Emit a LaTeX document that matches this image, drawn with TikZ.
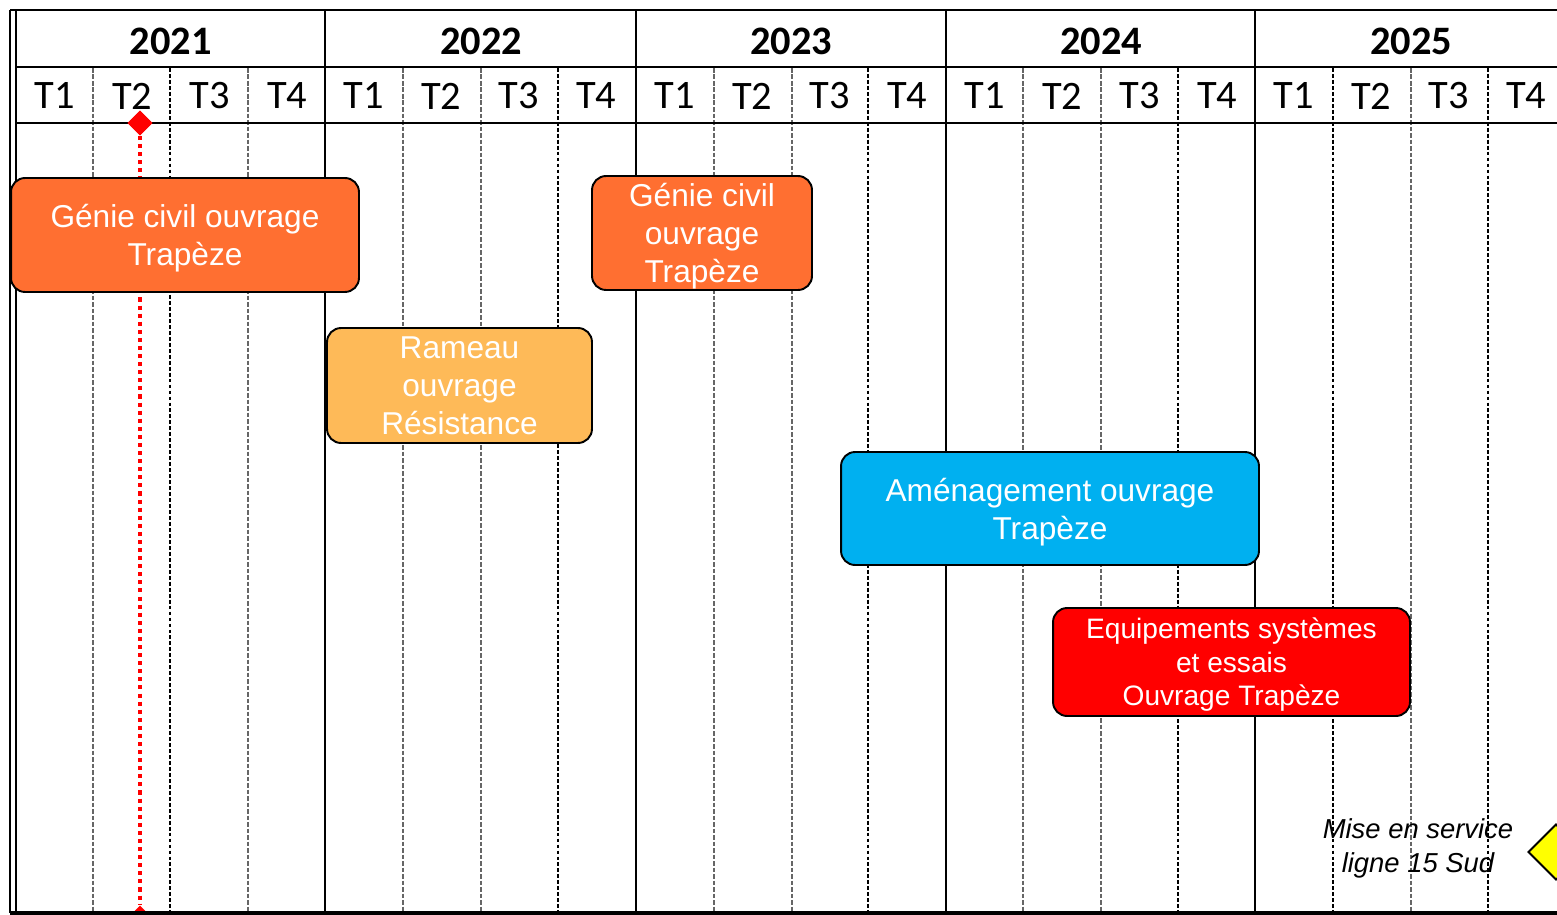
\documentclass[tikz,border=0pt]{standalone}
\usepackage{fontspec}
\setmainfont{Liberation Sans}
\newfontfamily\calib{Carlito}
\usetikzlibrary{shapes.geometric}
\definecolor{orangeA}{RGB}{255,111,49}
\definecolor{orangeB}{RGB}{254,186,88}
\definecolor{blueA}{RGB}{0,176,240}
\definecolor{redA}{RGB}{255,0,0}
\definecolor{yellowA}{RGB}{255,255,0}
\tikzset{
  qthin/.style={draw=black!60, line width=0.6pt, dash pattern=on 2.6pt off 1.1pt},
  qthick/.style={draw=black, line width=1.1pt, dash pattern=on 2.2pt off 1.2pt},
  yearline/.style={draw=black, line width=1.3pt},
  hline/.style={draw=black, line width=1.6pt},
  yearlbl/.style={font=\calib\bfseries\fontsize{23}{26}\selectfont, inner sep=0pt},
  qlbl/.style={font=\calib\fontsize{23}{26}\selectfont, inner sep=0pt},
  taskbox/.style={draw=black, line width=1.1pt, rounded corners=8pt, text=white, align=center, inner sep=0pt, text depth=0pt, font=\fontsize{18}{21.6}\selectfont},
  milestone/.style={diamond, fill=redA, draw=none, minimum size=0.5cm, inner sep=0pt},
}
\begin{document}
\begin{tikzpicture}[x=0.02cm, y=-0.02cm]
\useasboundingbox (0,0) rectangle (1557,915);
\clip (0,0) rectangle (1557,915);
\fill[white] (0,0) rectangle (1557,915);
% quarter dividers
\foreach \x in {93,248,403,481,714,792,1023,1101,1411}{
  \draw[qthin] (\x,68) -- (\x,911);
}
\foreach \x in {170,558,868,1178,1333,1488}{
  \draw[qthick] (\x,68) -- (\x,911);
}
% year lines
\foreach \x in {325,636,946,1255}{
  \draw[yearline] (\x,10) -- (\x,911);
}
% frame
\draw[black, line width=1.1pt] (10,10) -- (10,913);
\draw[black, line width=1.1pt] (16,10) -- (16,913);
\draw[black, line width=1.1pt] (10,10) -- (1557,10);
\draw[hline] (16,67) -- (1557,67);
\draw[hline] (16,123) -- (1557,123);
% year labels
\node[yearlbl] (y2021) at (170.5,41) {2021};
\node[yearlbl] (y2022) at (481,41) {2022};
\node[yearlbl] (y2023) at (791,41) {2023};
\node[yearlbl] (y2024) at (1101,41) {2024};
\node[yearlbl] (y2025) at (1411,41) {2025};
% quarter labels
\foreach \y/\x in {2021/16,2022/325,2023/636,2024/946,2025/1255}{
  \foreach \q in {1,2,3,4}{
    \node[qlbl] (q\y\q) at ({\x+77.5*(\q-0.5)},96) {T\q};
  }
}
% red milestone line
\node[milestone] (mtop) at (140,123) {};
\node[milestone] (mbot) at (140,918) {};
\draw[redA, line width=2.3pt, dash pattern=on 2.3pt off 2.3pt] (mtop) -- (mbot);
\node[milestone] at (140,123) {};
% bottom line
\draw[black, line width=2.4pt] (10,913) -- (1557,913);
% task boxes
\node[taskbox, fill=orangeA, minimum width=6.96cm, minimum height=2.28cm] (gc1) at (185,235) {Génie civil ouvrage\\Trapèze};
\node[taskbox, fill=orangeA, minimum width=4.4cm, minimum height=2.28cm] (gc2) at (702,233) {Génie civil\\ouvrage\\Trapèze};
\node[taskbox, fill=orangeB, minimum width=5.3cm, minimum height=2.3cm] (ram) at (459.5,385.5) {Rameau\\ouvrage\\Résistance};
\node[taskbox, fill=blueA, minimum width=8.36cm, minimum height=2.26cm] (amg) at (1050,508.5) {Aménagement ouvrage\\Trapèze};
\node[taskbox, fill=redA, minimum width=7.14cm, minimum height=2.16cm, font=\fontsize{16}{19}\selectfont] (eqp) at (1231.5,662) {Equipements systèmes\\et essais\\Ouvrage Trapèze};
% final milestone
\node[font=\itshape\fontsize{15.6}{19.3}\selectfont, align=center, inner sep=0pt, text depth=0pt] (mes) at (1418,846) {Mise en service\\ligne 15 Sud};
\node[diamond, fill=yellowA, draw=black, line width=1.1pt, minimum size=1.12cm, inner sep=0pt] (mfin) at (1556,852) {};
\end{tikzpicture}
\end{document}
